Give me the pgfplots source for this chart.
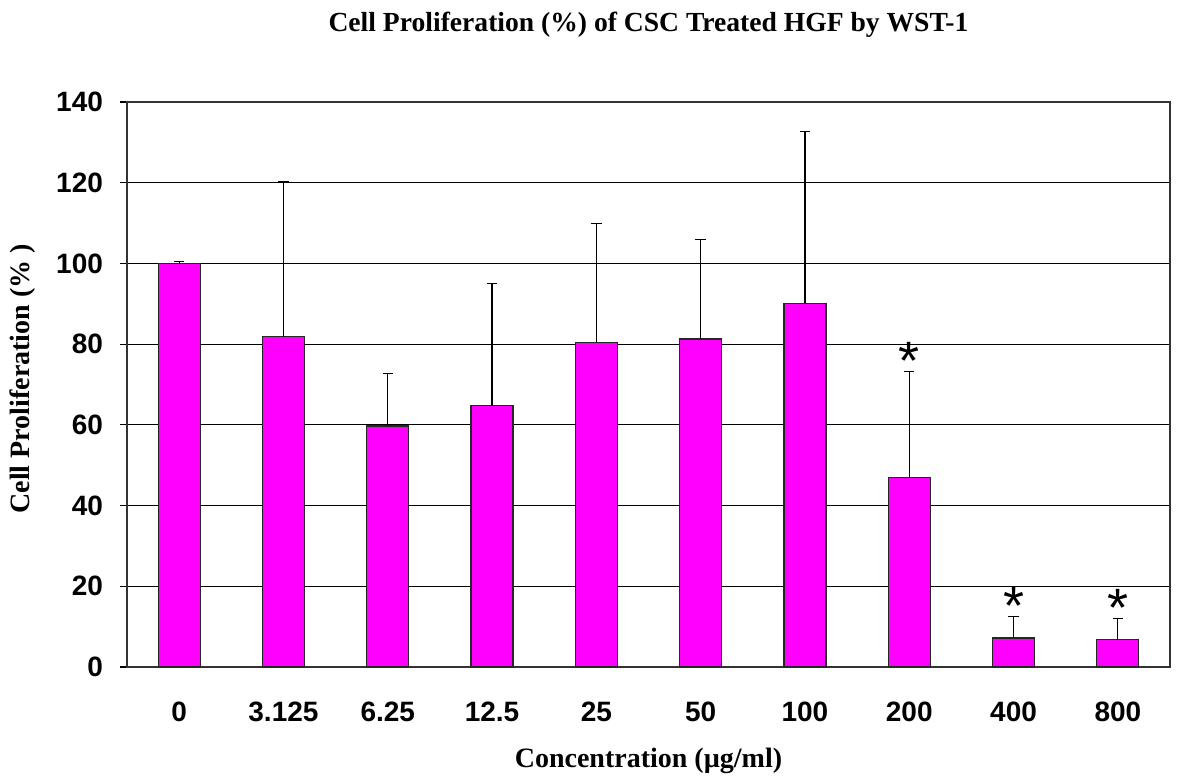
\documentclass[border=0pt]{standalone}
\usepackage{pgfplots}
\pgfplotsset{compat=1.18}
\usepackage{fontspec}
\setmainfont{Liberation Serif}
\setsansfont{Liberation Sans}
\definecolor{barmag}{RGB}{255,0,255}

\pgfplotstableread{
x  y     err
0  100.0 0.4
1  81.8  38.4
2  59.7  13.1
3  64.7  30.3
4  80.5  29.3
5  81.3  24.7
6  90.1  42.5
7  46.9  26.3
8  7.2   5.4
9  6.8   5.3
}\prolif

\begin{document}
\begin{tikzpicture}
\begin{axis}[
  name=ax,
  scale only axis,
  width=521.5pt, height=282.5pt,
  xmin=-0.5, xmax=9.5,
  ymin=0, ymax=140,
  ytick={0,20,...,140},
  xtick={0,...,9},
  xticklabels={0,3.125,6.25,12.5,25,50,100,200,400,800},
  x tick style={draw=none},
  ytick pos=left,
  tick align=outside,
  major tick length=3.5pt,
  ymajorgrids,
  grid style={black, line width=0.6pt},
  axis line style={black!80, line width=0.6pt},
  tick style={black, line width=0.6pt},
  /pgf/number format/assume math mode=true,
  ticklabel style={font=\sffamily\bfseries\fontsize{14}{16}\selectfont},
  yticklabel style={xshift=-5pt},
  xticklabel style={yshift=-10.5pt},
  title={Cell Proliferation (\%) of CSC Treated HGF by WST-1},
  title style={font=\bfseries\fontsize{13.8}{15}\selectfont, at={(axis description cs:0.5,1.115)}, anchor=center},
  xlabel={Concentration (µg/ml)},
  xlabel style={font=\bfseries\fontsize{14}{16}\selectfont, at={(axis description cs:0.5,-0.167)}, anchor=center},
  ylabel={Cell Proliferation (\% )},
  ylabel style={font=\bfseries\fontsize{14}{16}\selectfont, at={(axis description cs:-0.1,0.51)}, anchor=center, rotate=0},
  clip=false,
]
\addplot[ybar, bar width=21pt, fill=barmag, draw=black!85, line width=0.6pt,
  error bars/.cd, y dir=plus, y explicit,
  error bar style={black, line width=0.6pt},
  error mark options={rotate=90, mark size=2.6pt, black, line width=0.6pt}]
  table[x=x, y=y, y error=err] {\prolif};
% significance marks above the error caps
\addplot[draw=none, mark=none,
  nodes near coords={*},
  every node near coord/.style={font=\sffamily\fontsize{27}{27}\selectfont, anchor=base, yshift=-4pt}]
  coordinates {(7,73.2) (8,12.6) (9,12.1)};
\end{axis}
\path ([shift={(-63.5pt,-56pt)}]ax.south west) rectangle ([shift={(4pt,51pt)}]ax.north east);
\end{tikzpicture}
\end{document}
